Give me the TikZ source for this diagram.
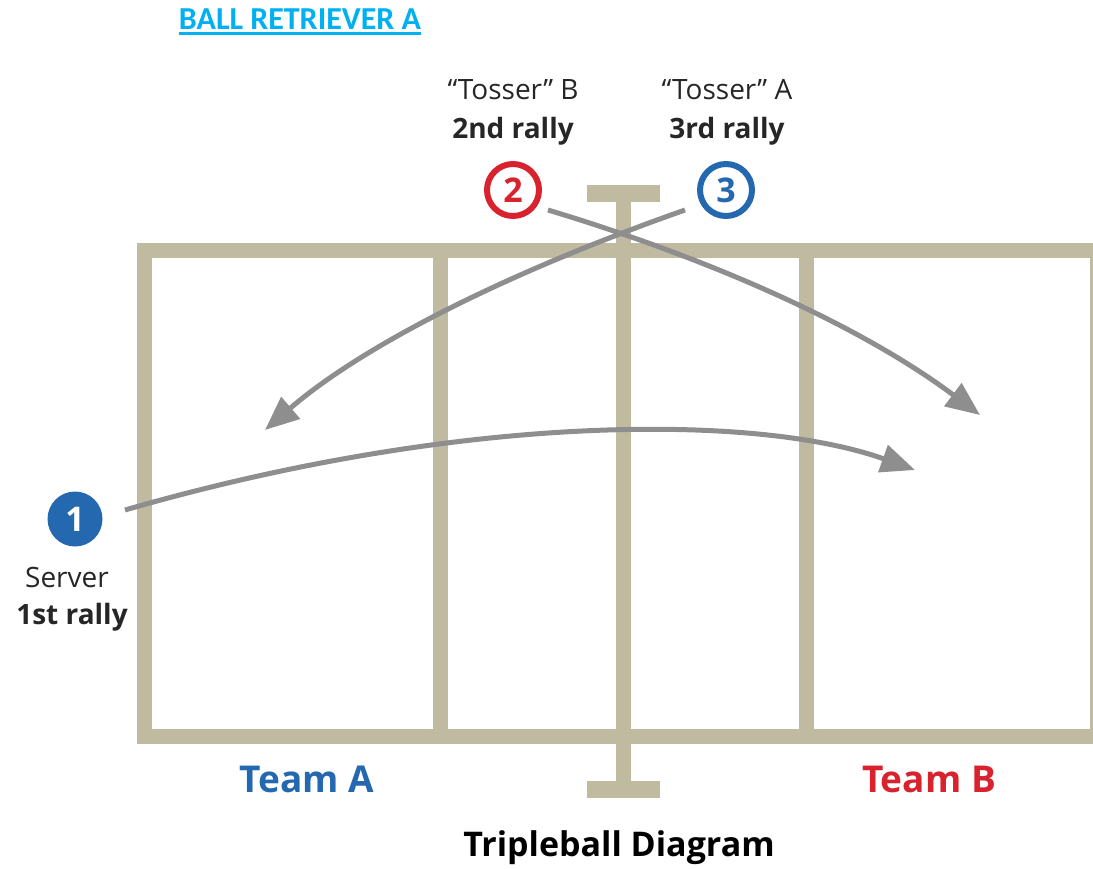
\documentclass[tikz,border=0pt]{standalone}
\usepackage{fontspec}
\setmainfont{Open Sans}
\newfontfamily\titlefont{Carlito}
\usepackage{xcolor}
\usetikzlibrary{arrows.meta, positioning}
\definecolor{CourtBeige}{HTML}{C0BAA0}
\definecolor{BallGray}{HTML}{8E8E8E}
\definecolor{TeamBlue}{HTML}{2468B0}
\definecolor{TeamRed}{HTML}{D8232F}
\definecolor{TitleCyan}{HTML}{00B0F0}

\begin{document}
\begin{tikzpicture}[x=1pt, y=-1pt,
    court/.style={draw=CourtBeige, line width=15pt},
    ball/.style={draw=BallGray, line width=5pt, -{Triangle[length=34pt, width=28pt]}},
    ringnum/.style={circle, draw=#1, line width=6pt, minimum size=52pt, inner sep=0pt, text=#1, font=\bfseries\fontsize{34}{34}\selectfont},
    fillnum/.style={circle, fill=#1, minimum size=55pt, inner sep=0pt, text=white, font=\bfseries\fontsize{34}{34}\selectfont},
    role/.style={font=\fontsize{28}{30}\selectfont, text=black!85, inner sep=0pt},
    rally/.style={font=\bfseries\fontsize{28}{30}\selectfont, text=black!85, inner sep=0pt},
    team/.style={font=\bfseries\fontsize{37}{40}\selectfont, text=#1, inner sep=0pt}]

        \useasboundingbox (0,0) rectangle (1093,868);

        % court and net
        \begin{scope}
        \clip (0,0) rectangle (1093,868);
        \draw[court] (144,250) rectangle (1097,736);
        \draw[court] (440,250) -- (440,736);
        \draw[court] (806,250) -- (806,736);
        \draw[court, line width=15pt] (623,193) -- (623,789);
        \draw[court, line width=17pt] (587,193) -- (660,193);
        \draw[court, line width=17pt] (587,789) -- (660,789);
        \end{scope}

        % players
        \node[fillnum=TeamBlue] (c1) at (75,519) {1};
        \node[ringnum=TeamRed] (c2) at (513,190) {2};
        \node[ringnum=TeamBlue] (c3) at (726,190) {3};

        \node[role] (server) at (67,577) {Server};
        \node[rally] (first) at (72,617) {1st rally};
        \node[role] (tosserB) at (513,90) {“Tosser” B};
        \node[rally] (second) at (513,131) {2nd rally};
        \node[role] (tosserA) at (727,90) {“Tosser” A};
        \node[rally] (third) at (727,131) {3rd rally};

        % landing spots
        \coordinate (serveStart) at (125,510);
        \coordinate (serveLand) at (915,470);
        \coordinate (tossBStart) at (548,210);
        \coordinate (tossBLand) at (980,415);
        \coordinate (tossAStart) at (685,210);
        \coordinate (tossALand) at (265,430);

        \draw[ball] (serveStart) .. controls (465,412) and (758,414) .. (serveLand);
        \draw[ball] (tossBStart) .. controls (724,263) and (868,331) .. (tossBLand);
        \draw[ball] (tossAStart) .. controls (500,275) and (360,348) .. (tossALand);

        \node[team=TeamBlue] (teamA) at (307,779) {Team A};
        \node[team=TeamRed] (teamB) at (929,779) {Team B};
        \node[font=\bfseries\fontsize{34}{36}\selectfont, inner sep=0pt] (caption) at (619,848) {Tripleball Diagram};
        \node[font=\titlefont\bfseries\fontsize{32}{32}\selectfont, text=TitleCyan, inner sep=0pt] (retriever) at (300,19) {BALL RETRIEVER A};
        \draw[TitleCyan, line width=3pt] ([yshift=-4pt]retriever.south west) -- ([yshift=-4pt]retriever.south east);

    \end{tikzpicture}
\end{document}
